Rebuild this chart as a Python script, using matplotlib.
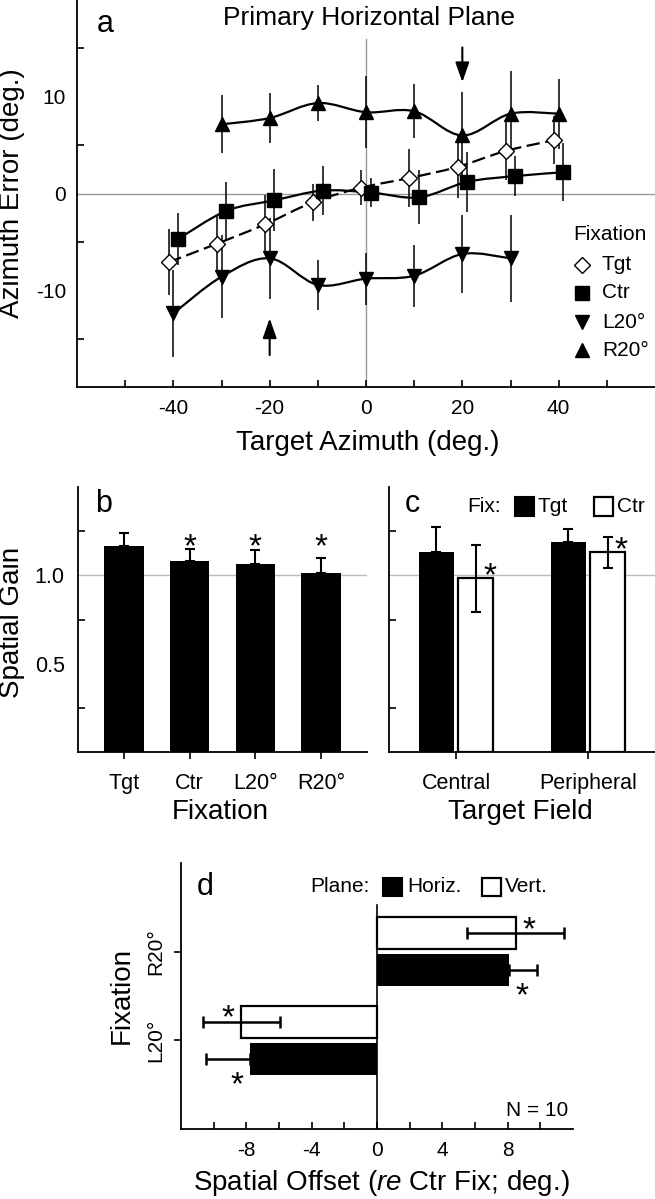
import numpy as np
import matplotlib
matplotlib.use("Agg")
import matplotlib.pyplot as plt
from matplotlib.path import Path
from matplotlib.patches import PathPatch, Rectangle

plt.rcParams['font.family'] = ['Liberation Sans', 'DejaVu Sans']
plt.rcParams['mathtext.fontset'] = 'custom'
plt.rcParams['mathtext.rm'] = 'Liberation Sans'
plt.rcParams['mathtext.it'] = 'Liberation Sans:italic'
plt.rcParams['axes.unicode_minus'] = False

# -----------------------------
# Data, panel a (azimuth error vs target azimuth)
# -----------------------------
azimuth = [-40, -30, -20, -10, 0, 10, 20, 30, 40]
err_tgt = [-7.1, -5.2, -3.2, -0.9, 0.6, 1.6, 2.75, 4.4, 5.5]
sd_tgt = [3.4, 3.0, 3.0, 1.9, 1.8, 3.0, 3.2, 3.0, 2.5]
err_ctr = [-4.7, -1.8, -0.7, 0.3, 0.1, -0.4, 1.2, 1.8, 2.2]
sd_ctr = [2.7, 3.0, 3.2, 2.5, 1.5, 2.8, 3.1, 2.1, 3.0]
azimuth_l20 = [-40, -30, -20, -10, 0, 10, 20, 30]
err_l20 = [-12.4, -8.6, -6.7, -9.45, -8.8, -8.5, -6.25, -6.7]
sd_l20 = [4.5, 4.3, 4.2, 2.6, 2.7, 3.2, 4.0, 4.5]
azimuth_r20 = [-30, -20, -10, 0, 10, 20, 30, 40]
err_r20 = [7.15, 7.8, 9.35, 8.4, 8.5, 6.0, 8.25, 8.25]
sd_r20 = [3.0, 2.6, 1.9, 3.7, 2.8, 4.5, 4.4, 3.6]
arrow_x = [20, -20]
arrow_from = [15.1, -16.7]
arrow_to = [11.5, -12.9]

# -----------------------------
# Data, panels b and c (spatial gain)
# -----------------------------
fix_names = ['Tgt', 'Ctr', 'L20°', 'R20°']
gain = [1.166, 1.081, 1.062, 1.013]
gain_sd = [0.075, 0.067, 0.080, 0.087]
gain_sig = [False, True, True, True]

fields = ['Central', 'Peripheral']
gain_tgt = [1.131, 1.189]
gain_tgt_sd = [0.14, 0.076]
gain_ctr = [0.983, 1.131]
gain_ctr_sd = [0.19, 0.087]

# -----------------------------
# Data, panel d (spatial offset re Ctr fixation)
# -----------------------------
fix_d = ['L20°', 'R20°']
off_horiz = [-7.77, 8.07]
off_horiz_sd = [2.69, 1.74]
off_vert = [-8.30, 8.48]
off_vert_sd = [2.36, 2.94]

W, H = 655, 1199
fig = plt.figure(figsize=(6.55, 11.99), dpi=100)


def fx(x):
    return x / W


def fy(y):
    return 1 - y / H


def box(l, t, r, b):
    return [l / W, 1 - b / H, (r - l) / W, (b - t) / H]


def smooth(x, y):
    # catmull-rom curve through the points, drawn as bezier pieces
    p = np.column_stack([x, y]).astype(float)
    pp = np.vstack([p[0], p, p[-1]])
    verts = [p[0]]
    codes = [Path.MOVETO]
    for i in range(len(p) - 1):
        c1 = pp[i + 1] + (pp[i + 2] - pp[i]) / 6
        c2 = pp[i + 2] - (pp[i + 3] - pp[i + 1]) / 6
        verts += [c1, c2, pp[i + 2]]
        codes += [Path.CURVE4] * 3
    return Path(verts, codes)


def star(ax, x, y, fs=24):
    # put the centre of the asterisk glyph on (x, y)
    ax.annotate('*', (x, y), xytext=(0, -0.58 * fs), textcoords='offset points',
                ha='center', va='baseline', fontsize=fs, annotation_clip=False)


def clean(ax):
    ax.spines['top'].set_visible(False)
    ax.spines['right'].set_visible(False)
    ax.spines['left'].set_linewidth(1.3)
    ax.spines['bottom'].set_linewidth(1.3)


# -----------------------------
# Panel a
# -----------------------------
ax = fig.add_axes(box(77, 0, 655, 387))
ax.set_xlim(-60, 60)
ax.set_ylim(-20, 20)
clean(ax)
ax.axhline(0, color='#999999', lw=1, zorder=0)
ax.plot([0, 0], [-20, 16], color='#999999', lw=1, zorder=0)

series = [
    (np.array(azimuth) - 1, err_tgt, sd_tgt, 'D', 8.0, 'white', (0, (6, 2.5))),
    (np.array(azimuth) + 1, err_ctr, sd_ctr, 's', 9.4, 'k', 'solid'),
    (np.array(azimuth_l20), err_l20, sd_l20, 'v', 9.5, 'k', 'solid'),
    (np.array(azimuth_r20), err_r20, sd_r20, '^', 9.5, 'k', 'solid'),
]
for x, y, sd, m, ms, fc, ls in series:
    ax.errorbar(x, y, yerr=sd, fmt='none', ecolor='k', elinewidth=1.1, zorder=1)
    ax.add_patch(PathPatch(smooth(x, y), fill=False, lw=1.6, ls=ls, ec='k', zorder=2))
    ax.plot(x, y, ls='none', marker=m, ms=ms, mfc=fc, mec='k', mew=1, zorder=3)

for x, y0, y1 in zip(arrow_x, arrow_from, arrow_to):
    ax.annotate('', xy=(x, y1), xytext=(x, y0),
                arrowprops=dict(arrowstyle='-|>,head_length=1.2,head_width=0.42',
                                color='k', lw=1.5, shrinkA=0, shrinkB=0))

xt = list(range(-50, 51, 10))
ax.set_xticks(xt)
ax.set_xticklabels([str(v) if v % 20 == 0 else '' for v in xt])
ax.tick_params(axis='x', direction='in', length=5, width=1.2, labelsize=15, pad=9)
ax.set_yticks([-10, 0, 10])
ax.set_yticks([-15, -5, 5, 15], minor=True)
ax.tick_params(axis='y', which='major', length=0, labelsize=15, pad=8)
ax.tick_params(axis='y', which='minor', direction='in', length=5, width=1.2)

fig.text(fx(97), fy(32), 'a', fontsize=22, va='baseline')
fig.text(fx(369), fy(25), 'Primary Horizontal Plane', fontsize=19, ha='center', va='baseline')
fig.text(fx(368), fy(443), 'Target Azimuth (deg.)', fontsize=20, ha='center', va='center')
fig.text(fx(12), fy(193), 'Azimuth Error (deg.)', fontsize=20, ha='center', va='center', rotation=90)

# legend for panel a
fig.text(fx(573), fy(235), 'Fixation', fontsize=15, ha='left', va='center')
leg_y = [265, 293, 322, 350]
for (x, y, sd, m, ms, fc, ls), name, yy in zip(series, ['Tgt', 'Ctr', 'L20°', 'R20°'], leg_y):
    ax.plot([fx(582)], [fy(yy)], transform=fig.transFigure, clip_on=False,
            marker=m, ms=ms, mfc=fc, mec='k', mew=1, ls='none')
    fig.text(fx(602), fy(yy), name, fontsize=15, ha='left', va='center')

# -----------------------------
# Panel b
# -----------------------------
axb = fig.add_axes(box(78, 487, 367, 752))
clean(axb)
xb = np.arange(len(fix_names))
axb.axhline(1.0, color='#bbbbbb', lw=1, zorder=0.5)
axb.bar(xb, gain, width=0.6, color='k', zorder=2)
axb.errorbar(xb, gain, yerr=[np.zeros(len(gain)), gain_sd], fmt='none', ecolor='k',
             elinewidth=1.5, capsize=3.3, capthick=1.5, zorder=3)
for x, s in zip(xb, gain_sig):
    if s:
        star(axb, x, 1.216)
axb.set_xlim(-0.7, 3.7)
axb.set_ylim(0, 1.5)
axb.set_xticks(xb)
axb.set_xticklabels(fix_names)
axb.tick_params(axis='x', direction='out', length=5, width=1.2, labelsize=15.5, pad=10)
axb.set_yticks([0.5, 1.0])
axb.set_yticklabels(['0.5', '1.0'])
axb.set_yticks([0.25, 0.75, 1.25], minor=True)
axb.tick_params(axis='y', which='major', length=0, labelsize=15.5, pad=9.5)
axb.tick_params(axis='y', which='minor', direction='in', length=5, width=1.2)
fig.text(fx(95), fy(512), 'b', fontsize=22, va='baseline')
fig.text(fx(220), fy(812), 'Fixation', fontsize=20, ha='center', va='center')
fig.text(fx(12), fy(622), 'Spatial Gain', fontsize=20, ha='center', va='center', rotation=90)

# -----------------------------
# Panel c
# -----------------------------
axc = fig.add_axes(box(389, 487, 655, 752))
clean(axc)
xc = np.arange(len(fields))
axc.axhline(1.0, color='#bbbbbb', lw=1, zorder=0.5)
axc.bar(xc - 0.15, gain_tgt, width=0.265, color='k', zorder=2)
axc.bar(xc + 0.15, gain_ctr, width=0.265, color='white', edgecolor='k', lw=1.6, zorder=2)
axc.errorbar(xc - 0.15, gain_tgt, yerr=[np.zeros(len(gain_tgt)), gain_tgt_sd], fmt='none',
             ecolor='k', elinewidth=1.5, capsize=3.3, capthick=1.5, zorder=3)
axc.errorbar(xc + 0.15, gain_ctr, yerr=gain_ctr_sd, fmt='none',
             ecolor='k', elinewidth=1.5, capsize=3.3, capthick=1.5, zorder=3)
for x, v in zip(xc, gain_ctr):
    star(axc, x + 0.255, v + 0.068)
axc.set_xlim(-0.51, 1.51)
axc.set_ylim(0, 1.5)
axc.set_xticks(xc)
axc.set_xticklabels(fields)
axc.tick_params(axis='x', direction='out', length=5, width=1.2, labelsize=15.5, pad=10)
axc.set_yticks([0.5, 1.0])
axc.set_yticklabels([])
axc.set_yticks([0.25, 0.75, 1.25], minor=True)
axc.tick_params(axis='y', which='major', length=0)
axc.tick_params(axis='y', which='minor', direction='in', length=5, width=1.2)
fig.text(fx(405), fy(512), 'c', fontsize=22, va='baseline')
fig.text(fx(520), fy(812), 'Target Field', fontsize=20, ha='center', va='center')

fig.text(fx(467), fy(507), 'Fix:', fontsize=15, ha='left', va='center')
fig.add_artist(Rectangle((fx(515), fy(516)), 19 / W, 19 / H, transform=fig.transFigure,
                         fc='k', ec='k', lw=1.5))
fig.text(fx(537), fy(507), 'Tgt', fontsize=15, ha='left', va='center')
fig.add_artist(Rectangle((fx(594), fy(516)), 19 / W, 19 / H, transform=fig.transFigure,
                         fc='white', ec='k', lw=1.6))
fig.text(fx(617), fy(507), 'Ctr', fontsize=15, ha='left', va='center')

# -----------------------------
# Panel d
# -----------------------------
axd = fig.add_axes(box(181, 863, 573, 1129))
clean(axd)
yd = np.arange(len(fix_d))
axd.plot([0, 0], [-1, 1.53], color='k', lw=1.2, zorder=1)
axd.barh(yd - 0.21, off_horiz, height=0.36, color='k', zorder=2)
axd.barh(yd + 0.21, off_vert, height=0.36, color='white', edgecolor='k', lw=1.6, zorder=2)
h_lo = [s if v < 0 else 0 for v, s in zip(off_horiz, off_horiz_sd)]
h_hi = [s if v > 0 else 0 for v, s in zip(off_horiz, off_horiz_sd)]
axd.errorbar(off_horiz, yd - 0.21, xerr=[h_lo, h_hi], fmt='none', ecolor='k',
             elinewidth=1.8, capsize=4, capthick=1.8, zorder=3)
axd.errorbar(off_vert, yd + 0.21, xerr=off_vert_sd, fmt='none', ecolor='k',
             elinewidth=1.8, capsize=4, capthick=1.8, zorder=3)
for y, v in zip(yd, off_vert):
    star(axd, v + np.sign(v) * 0.85, y + 0.36)
for y, v in zip(yd, off_horiz):
    star(axd, v + np.sign(v) * 0.78, y - 0.39)
axd.set_xlim(-12, 12)
axd.set_ylim(-1, 2)
xd = list(range(-10, 11, 2))
axd.set_xticks(xd)
axd.set_xticklabels([str(v) if v % 4 == 0 else '' for v in xd])
axd.tick_params(axis='x', direction='in', length=5, width=1.2, labelsize=15, pad=8.5)
axd.set_yticks(yd)
axd.set_yticklabels(fix_d, rotation=90, va='center')
axd.tick_params(axis='y', direction='out', length=5, width=1.2, labelsize=15, pad=6)
fig.text(fx(197), fy(895), 'd', fontsize=22, va='baseline')
fig.text(fx(568), fy(1110), 'N = 10', fontsize=15, ha='right', va='center')
fig.text(fx(381), fy(1183), r'Spatial Offset ($\it{re}$ Ctr Fix; deg.)', fontsize=20,
         ha='center', va='center')
fig.text(fx(122), fy(995), 'Fixation', fontsize=20, ha='center', va='center', rotation=90)

fig.text(fx(310), fy(887), 'Plane:', fontsize=15, ha='left', va='center')
fig.add_artist(Rectangle((fx(383), fy(896)), 19 / W, 18 / H, transform=fig.transFigure,
                         fc='k', ec='k', lw=1.5))
fig.text(fx(407), fy(887), 'Horiz.', fontsize=15, ha='left', va='center')
fig.add_artist(Rectangle((fx(482), fy(896)), 19 / W, 18 / H, transform=fig.transFigure,
                         fc='white', ec='k', lw=1.6))
fig.text(fx(505), fy(887), 'Vert.', fontsize=15, ha='left', va='center')

fig.savefig('out.png', dpi=100)
